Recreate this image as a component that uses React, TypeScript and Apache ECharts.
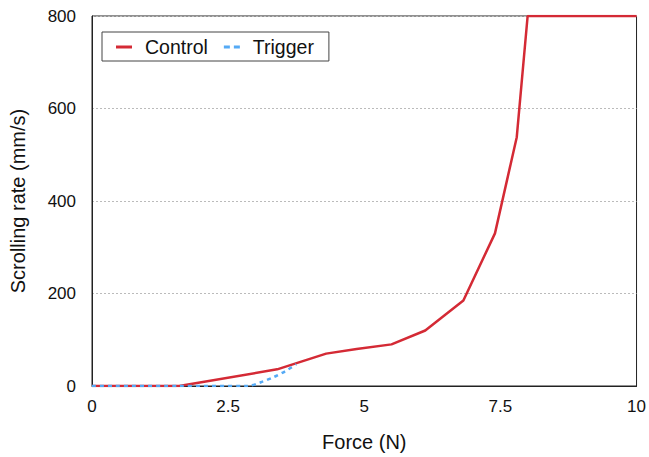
import React, { useEffect, useRef } from "react";
import * as echarts from "echarts";

const controlX = [0, 1.6, 3.4, 4.3, 4.86, 5.5, 6.12, 6.82, 7.4, 7.8, 8.0, 10];
const controlY = [0, 0, 36, 70, 80, 90, 120, 185, 330, 538, 800, 800];
const triggerX = [0, 1.6, 2.85, 3.1, 3.35, 3.55, 3.75];
const triggerY = [0, 0, 0, 8, 20, 32, 47];
const xTicks = [0, 2.5, 5, 7.5, 10];
const yTicks = [0, 200, 400, 600, 800];

const FONT = "Liberation Sans, Arial, Helvetica, sans-serif";

export default function App() {
  const ref = useRef<HTMLDivElement>(null);
  useEffect(() => {
    document.body.style.margin = "0";
    const chart = echarts.init(ref.current!, null, { renderer: "svg" });
    chart.setOption({
      animation: false,
      backgroundColor: "#fff",
      textStyle: { fontFamily: FONT },
      grid: {
        left: 92,
        right: 10,
        top: 16,
        bottom: 65,
        show: true,
        borderColor: "#222",
        borderWidth: 1,
      },
      legend: {
        left: 102,
        top: 32,
        padding: [5, 15, 4, 14],
        borderColor: "#444",
        borderWidth: 1,
        itemWidth: 16,
        itemHeight: 3,
        itemGap: 16,
        textStyle: { fontSize: 19.5, color: "#111", fontFamily: FONT, padding: [0, 0, 0, 8] },
        data: [
          { name: "Control", icon: "path://M0,0H16V3H0Z" },
          { name: "Trigger", icon: "path://M0,0H6V3H0Z M10,0H16V3H10Z" },
        ],
      },
      xAxis: {
        type: "value",
        min: 0,
        max: 10,
        interval: 2.5,
        name: "Force (N)",
        nameLocation: "middle",
        nameGap: 46,
        nameTextStyle: { fontSize: 20, color: "#111", fontFamily: FONT },
        axisLine: { show: true, lineStyle: { color: "#222", width: 1 } },
        axisTick: { show: false },
        splitLine: { show: false },
        axisLabel: {
          fontSize: 17,
          color: "#111",
          margin: 12,
          fontFamily: FONT,
          formatter: (v: number) => (xTicks.includes(v) ? String(v) : ""),
        },
      },
      yAxis: {
        type: "value",
        min: 0,
        max: 800,
        interval: 200,
        name: "Scrolling rate (mm/s)",
        nameLocation: "middle",
        nameGap: 64,
        nameTextStyle: { fontSize: 20, color: "#111", fontFamily: FONT },
        axisLine: { show: true, lineStyle: { color: "#222", width: 1 } },
        axisTick: { show: false },
        splitLine: { show: true, lineStyle: { color: "#bbb", type: [2, 2], width: 1 } },
        axisLabel: {
          fontSize: 17,
          color: "#111",
          margin: 16,
          fontFamily: FONT,
          formatter: (v: number) => (yTicks.includes(v) ? String(v) : ""),
        },
      },
      series: [
        {
          name: "Control",
          type: "line",
          data: controlX.map((x, i) => [x, controlY[i]]),
          showSymbol: false,
          symbol: "none",
          color: "#d42a35",
          lineStyle: { color: "#d42a35", width: 2.5 },
        },
        {
          name: "Trigger",
          type: "line",
          data: triggerX.map((x, i) => [x, triggerY[i]]),
          showSymbol: false,
          symbol: "none",
          smooth: 0.3,
          color: "#55aaf5",
          lineStyle: { color: "#55aaf5", width: 2.5, type: [4, 4] },
        },
      ],
    });
    return () => chart.dispose();
  }, []);
  return <div ref={ref} style={{ width: 649, height: 457 }} />;
}
